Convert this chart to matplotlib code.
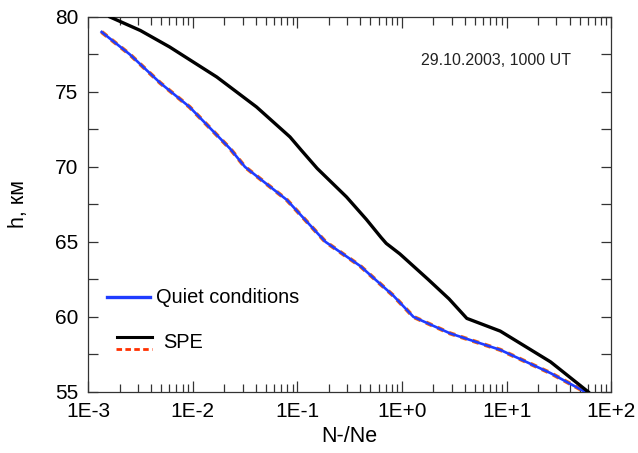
import numpy as np
import matplotlib.pyplot as plt
from matplotlib.ticker import FixedLocator, FuncFormatter, MultipleLocator

# profiles: log10(N-/Ne) vs height (km)
h_quiet = [79.0, 77.5, 75.6, 74.0, 71.2, 70.0, 67.8, 65.6, 65.0, 63.4, 61.4, 60.0, 58.9, 57.8, 56.25, 55.0]
lg_quiet = [-2.87, -2.60, -2.31, -2.03, -1.64, -1.50, -1.10, -0.81, -0.73, -0.40, -0.08, 0.11, 0.46, 0.94, 1.42, 1.75]

h_spe = [80.0, 79.1, 78.0, 76.0, 74.0, 72.0, 71.1, 69.9, 68.0, 66.5, 65.3, 64.9, 64.2, 62.5, 61.2, 59.9, 59.05, 57.0, 55.0]
lg_spe = [-2.79, -2.50, -2.22, -1.77, -1.39, -1.07, -0.96, -0.81, -0.53, -0.34, -0.20, -0.15, -0.02, 0.25, 0.45, 0.62, 0.94, 1.42, 1.78]

# red dashed profile sits right under the quiet one
h_spe2 = h_quiet
lg_spe2 = lg_quiet

xticks = [1e-3, 1e-2, 1e-1, 1e0, 1e1, 1e2]
xticklabels = ["1E-3", "1E-2", "1E-1", "1E+0", "1E+1", "1E+2"]

plt.rcParams["font.family"] = ["Liberation Sans", "DejaVu Sans"]

fig = plt.figure(figsize=(6.38, 4.53), dpi=100)
ax = fig.add_axes([0.138, 0.135, 0.82, 0.8275])

ax.plot(10 ** np.array(lg_spe2), h_spe2, color="#ff6a00", lw=3.0, ls=(0, (1.6, 1.4)), zorder=2)
ax.plot(10 ** np.array(lg_quiet), h_quiet, color="#1f3cff", lw=1.9, zorder=3)
ax.plot(10 ** np.array(lg_spe), h_spe, color="black", lw=2.4, zorder=4)

ax.set_xscale("log")
ax.set_xlim(1e-3, 1e2)
ax.set_ylim(55, 80)
ax.xaxis.set_major_locator(FixedLocator(xticks))
ax.xaxis.set_major_formatter(FuncFormatter(lambda v, p: xticklabels[xticks.index(v)] if v in xticks else ""))
ax.yaxis.set_major_locator(MultipleLocator(5))
ax.yaxis.set_minor_locator(MultipleLocator(2.5))

ax.tick_params(which="both", direction="in", top=True, right=True, width=0.9, color="#333333", labelsize=15)
ax.tick_params(axis="x", which="major", length=8, pad=7)
ax.tick_params(axis="x", which="minor", length=6)
ax.tick_params(axis="y", which="both", length=7, pad=7)
for s in ax.spines.values():
    s.set_linewidth(0.9)
    s.set_color("#333333")

ax.set_xlabel("N-/Ne", fontsize=15.5, va="top")
ax.xaxis.set_label_coords(0.5, -0.09)
ax.set_ylabel("h, км", fontsize=15.5)
ax.yaxis.set_label_coords(-0.113, 0.5)

ax.text(0.636, 0.873, "29.10.2003, 1000 UT", transform=ax.transAxes, fontsize=11.5, color="#222222")

# hand-made legend
ax.plot([0.036, 0.118], [0.253, 0.253], transform=ax.transAxes, color="#1f3cff", lw=2.4)
ax.text(0.130, 0.253, "Quiet conditions", transform=ax.transAxes, fontsize=14.4, va="center")
ax.plot([0.056, 0.122], [0.145, 0.145], transform=ax.transAxes, color="black", lw=2.2)
ax.plot([0.054, 0.122], [0.115, 0.115], transform=ax.transAxes, color="#ff3000", lw=2, ls=(0, (2, 1.2)))
ax.text(0.143, 0.132, "SPE", transform=ax.transAxes, fontsize=14.4, va="center")

plt.savefig("out.png", dpi=100)
